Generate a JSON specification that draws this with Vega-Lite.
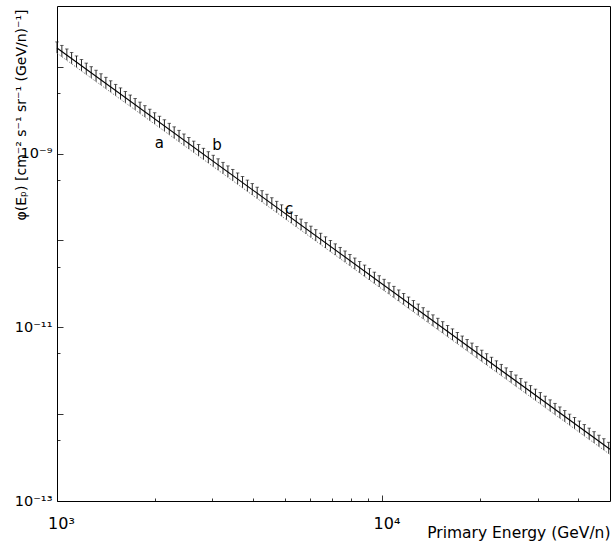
{
  "$schema": "https://vega.github.io/schema/vega-lite/v6.json",
  "width": 553,
  "height": 495,
  "autosize": "none",
  "padding": {"left": 57, "top": 6, "right": 1, "bottom": 43},
  "background": "white",
  "config": {
    "view": {"stroke": "black", "strokeWidth": 1},
    "axis": {
      "domain": false,
      "grid": false,
      "tickColor": "black",
      "tickWidth": 0.8,
      "labelColor": "black",
      "labelFont": "DejaVu Sans",
      "labelFontSize": 16,
      "titleColor": "black",
      "titleFont": "DejaVu Sans",
      "titleFontWeight": "normal",
      "labelFlush": false,
      "labelOverlap": false
    },
    "text": {"font": "DejaVu Sans"}
  },
  "datasets": {
    "bars": [
      {"E": 1000, "lo": 1.43e-8, "hi": 1.93e-8},
      {"E": 1035, "lo": 1.30e-8, "hi": 1.76e-8},
      {"E": 1072, "lo": 1.19e-8, "hi": 1.60e-8},
      {"E": 1109, "lo": 1.08e-8, "hi": 1.46e-8},
      {"E": 1148, "lo": 9.83e-9, "hi": 1.33e-8},
      {"E": 1189, "lo": 8.95e-9, "hi": 1.21e-8},
      {"E": 1230, "lo": 8.15e-9, "hi": 1.10e-8},
      {"E": 1274, "lo": 7.42e-9, "hi": 1.00e-8},
      {"E": 1318, "lo": 6.75e-9, "hi": 9.11e-9},
      {"E": 1365, "lo": 6.15e-9, "hi": 8.29e-9},
      {"E": 1413, "lo": 5.60e-9, "hi": 7.55e-9},
      {"E": 1462, "lo": 5.10e-9, "hi": 6.88e-9},
      {"E": 1514, "lo": 4.64e-9, "hi": 6.26e-9},
      {"E": 1567, "lo": 4.22e-9, "hi": 5.70e-9},
      {"E": 1622, "lo": 3.84e-9, "hi": 5.19e-9},
      {"E": 1679, "lo": 3.50e-9, "hi": 4.72e-9},
      {"E": 1738, "lo": 3.19e-9, "hi": 4.30e-9},
      {"E": 1799, "lo": 2.90e-9, "hi": 3.91e-9},
      {"E": 1862, "lo": 2.64e-9, "hi": 3.56e-9},
      {"E": 1928, "lo": 2.40e-9, "hi": 3.24e-9},
      {"E": 1995, "lo": 2.19e-9, "hi": 2.95e-9},
      {"E": 2065, "lo": 1.99e-9, "hi": 2.69e-9},
      {"E": 2138, "lo": 1.81e-9, "hi": 2.45e-9},
      {"E": 2213, "lo": 1.65e-9, "hi": 2.23e-9},
      {"E": 2291, "lo": 1.50e-9, "hi": 2.03e-9},
      {"E": 2371, "lo": 1.37e-9, "hi": 1.85e-9},
      {"E": 2455, "lo": 1.24e-9, "hi": 1.68e-9},
      {"E": 2541, "lo": 1.13e-9, "hi": 1.53e-9},
      {"E": 2630, "lo": 1.03e-9, "hi": 1.39e-9},
      {"E": 2723, "lo": 9.39e-10, "hi": 1.27e-9},
      {"E": 2818, "lo": 8.55e-10, "hi": 1.15e-9},
      {"E": 2917, "lo": 7.78e-10, "hi": 1.05e-9},
      {"E": 3020, "lo": 7.09e-10, "hi": 9.56e-10},
      {"E": 3126, "lo": 6.45e-10, "hi": 8.70e-10},
      {"E": 3236, "lo": 5.87e-10, "hi": 7.92e-10},
      {"E": 3350, "lo": 5.35e-10, "hi": 7.21e-10},
      {"E": 3467, "lo": 4.87e-10, "hi": 6.57e-10},
      {"E": 3589, "lo": 4.43e-10, "hi": 5.98e-10},
      {"E": 3715, "lo": 4.03e-10, "hi": 5.44e-10},
      {"E": 3846, "lo": 3.67e-10, "hi": 4.95e-10},
      {"E": 3981, "lo": 3.34e-10, "hi": 4.51e-10},
      {"E": 4121, "lo": 3.04e-10, "hi": 4.10e-10},
      {"E": 4266, "lo": 2.77e-10, "hi": 3.74e-10},
      {"E": 4416, "lo": 2.52e-10, "hi": 3.40e-10},
      {"E": 4571, "lo": 2.30e-10, "hi": 3.10e-10},
      {"E": 4732, "lo": 2.09e-10, "hi": 2.82e-10},
      {"E": 4898, "lo": 1.90e-10, "hi": 2.57e-10},
      {"E": 5070, "lo": 1.73e-10, "hi": 2.34e-10},
      {"E": 5248, "lo": 1.58e-10, "hi": 2.13e-10},
      {"E": 5433, "lo": 1.44e-10, "hi": 1.94e-10},
      {"E": 5623, "lo": 1.31e-10, "hi": 1.76e-10},
      {"E": 5821, "lo": 1.19e-10, "hi": 1.60e-10},
      {"E": 6026, "lo": 1.08e-10, "hi": 1.46e-10},
      {"E": 6237, "lo": 9.85e-11, "hi": 1.33e-10},
      {"E": 6457, "lo": 8.97e-11, "hi": 1.21e-10},
      {"E": 6683, "lo": 8.17e-11, "hi": 1.10e-10},
      {"E": 6918, "lo": 7.43e-11, "hi": 1.00e-10},
      {"E": 7161, "lo": 6.77e-11, "hi": 9.13e-11},
      {"E": 7413, "lo": 6.16e-11, "hi": 8.31e-11},
      {"E": 7674, "lo": 5.61e-11, "hi": 7.56e-11},
      {"E": 7943, "lo": 5.11e-11, "hi": 6.89e-11},
      {"E": 8222, "lo": 4.65e-11, "hi": 6.27e-11},
      {"E": 8511, "lo": 4.23e-11, "hi": 5.71e-11},
      {"E": 8810, "lo": 3.85e-11, "hi": 5.20e-11},
      {"E": 9120, "lo": 3.51e-11, "hi": 4.73e-11},
      {"E": 9441, "lo": 3.19e-11, "hi": 4.31e-11},
      {"E": 9772, "lo": 2.91e-11, "hi": 3.92e-11},
      {"E": 10116, "lo": 2.64e-11, "hi": 3.57e-11},
      {"E": 10471, "lo": 2.41e-11, "hi": 3.25e-11},
      {"E": 10839, "lo": 2.19e-11, "hi": 2.96e-11},
      {"E": 11220, "lo": 2.00e-11, "hi": 2.69e-11},
      {"E": 11614, "lo": 1.82e-11, "hi": 2.45e-11},
      {"E": 12023, "lo": 1.65e-11, "hi": 2.23e-11},
      {"E": 12445, "lo": 1.51e-11, "hi": 2.03e-11},
      {"E": 12882, "lo": 1.37e-11, "hi": 1.85e-11},
      {"E": 13335, "lo": 1.25e-11, "hi": 1.68e-11},
      {"E": 13804, "lo": 1.14e-11, "hi": 1.53e-11},
      {"E": 14289, "lo": 1.03e-11, "hi": 1.39e-11},
      {"E": 14791, "lo": 9.41e-12, "hi": 1.27e-11},
      {"E": 15311, "lo": 8.57e-12, "hi": 1.16e-11},
      {"E": 15849, "lo": 7.80e-12, "hi": 1.05e-11},
      {"E": 16406, "lo": 7.10e-12, "hi": 9.58e-12},
      {"E": 16982, "lo": 6.46e-12, "hi": 8.72e-12},
      {"E": 17579, "lo": 5.88e-12, "hi": 7.93e-12},
      {"E": 18197, "lo": 5.35e-12, "hi": 7.22e-12},
      {"E": 18836, "lo": 4.88e-12, "hi": 6.58e-12},
      {"E": 19498, "lo": 4.44e-12, "hi": 5.99e-12},
      {"E": 20184, "lo": 4.04e-12, "hi": 5.45e-12},
      {"E": 20893, "lo": 3.68e-12, "hi": 4.96e-12},
      {"E": 21627, "lo": 3.35e-12, "hi": 4.52e-12},
      {"E": 22387, "lo": 3.05e-12, "hi": 4.11e-12},
      {"E": 23174, "lo": 2.77e-12, "hi": 3.74e-12},
      {"E": 23988, "lo": 2.53e-12, "hi": 3.41e-12},
      {"E": 24831, "lo": 2.30e-12, "hi": 3.10e-12},
      {"E": 25704, "lo": 2.09e-12, "hi": 2.82e-12},
      {"E": 26607, "lo": 1.91e-12, "hi": 2.57e-12},
      {"E": 27542, "lo": 1.73e-12, "hi": 2.34e-12},
      {"E": 28510, "lo": 1.58e-12, "hi": 2.13e-12},
      {"E": 29512, "lo": 1.44e-12, "hi": 1.94e-12},
      {"E": 30549, "lo": 1.31e-12, "hi": 1.77e-12},
      {"E": 31623, "lo": 1.19e-12, "hi": 1.61e-12},
      {"E": 32734, "lo": 1.08e-12, "hi": 1.46e-12},
      {"E": 33884, "lo": 9.87e-13, "hi": 1.33e-12},
      {"E": 35075, "lo": 8.99e-13, "hi": 1.21e-12},
      {"E": 36308, "lo": 8.18e-13, "hi": 1.10e-12},
      {"E": 37584, "lo": 7.45e-13, "hi": 1.00e-12},
      {"E": 38905, "lo": 6.78e-13, "hi": 9.15e-13},
      {"E": 40272, "lo": 6.17e-13, "hi": 8.33e-13},
      {"E": 41687, "lo": 5.62e-13, "hi": 7.58e-13},
      {"E": 43152, "lo": 5.11e-13, "hi": 6.90e-13},
      {"E": 44668, "lo": 4.66e-13, "hi": 6.28e-13},
      {"E": 46238, "lo": 4.24e-13, "hi": 5.72e-13},
      {"E": 47863, "lo": 3.86e-13, "hi": 5.21e-13},
      {"E": 49545, "lo": 3.51e-13, "hi": 4.74e-13}
    ],
    "lines": [
      {"series": "mid", "E": 1000, "phi": 1.644e-8},
      {"series": "mid", "E": 50000, "phi": 3.94e-13},
      {"series": "low", "E": 1000, "phi": 1.43e-8},
      {"series": "low", "E": 50000, "phi": 3.43e-13}
    ],
    "labels": [
      {"E": 2061, "phi": 1.32e-9, "text": "a"},
      {"E": 3100, "phi": 1.26e-9, "text": "b"},
      {"E": 5170, "phi": 2.30e-10, "text": "c"}
    ]
  },
  "resolve": {"axis": {"x": "independent", "y": "independent"}},
  "layer": [
    {
      "data": {"name": "bars"},
      "mark": {"type": "rule", "color": "#111", "strokeWidth": 0.9},
      "encoding": {
        "x": {
          "field": "E",
          "type": "quantitative",
          "scale": {"type": "log", "domain": [1000, 50000], "nice": false},
          "axis": {
            "orient": "bottom",
            "title": "Primary Energy (GeV/n)",
            "titleFontSize": 15.5,
            "titleAlign": "right",
            "titleBaseline": "alphabetic",
            "titleX": 553,
            "titleY": 36,
            "values": [1000, 10000],
            "labelExpr": "datum.value == 1000 ? '10³' : '10⁴'",
            "labelPadding": 20,
            "labelOffset": 4,
            "tickSize": -6
          }
        },
        "y": {
          "field": "lo",
          "type": "quantitative",
          "scale": {"type": "log", "domain": [1e-13, 5e-8], "nice": false},
          "axis": {
            "orient": "left",
            "title": "φ(Eₚ) [cm⁻² s⁻¹ sr⁻¹ (GeV/n)⁻¹]",
            "titleFontSize": 14,
            "titleAlign": "right",
            "titleBaseline": "alphabetic",
            "titleAngle": 270,
            "titleX": -32,
            "titleY": 3,
            "values": [1e-13, 1e-12, 1e-11, 1e-10, 1e-9, 1e-8],
            "labelExpr": "datum.value == 1e-9 ? '10⁻⁹' : datum.value == 1e-11 ? '10⁻¹¹' : datum.value == 1e-13 ? '10⁻¹³' : ''",
            "labelFontSize": 14.5,
            "labelPadding": 11,
            "tickSize": -6
          }
        },
        "y2": {"field": "hi"}
      }
    },
    {
      "data": {"name": "bars"},
      "mark": {"type": "tick", "orient": "horizontal", "color": "#111", "size": 3.5, "thickness": 0.9},
      "encoding": {
        "x": {
          "field": "E",
          "type": "quantitative",
          "axis": {
            "orient": "bottom",
            "title": null,
            "values": [2000, 3000, 4000, 5000, 6000, 7000, 8000, 9000, 20000, 30000, 40000],
            "labels": false,
            "tickSize": -3
          }
        },
        "y": {
          "field": "hi",
          "type": "quantitative",
          "axis": {
            "orient": "left",
            "title": null,
            "values": [5e-13, 5e-12, 5e-11, 5e-10, 5e-9],
            "labels": false,
            "tickSize": -3
          }
        }
      }
    },
    {
      "data": {"name": "lines"},
      "transform": [{"filter": "datum.series == 'mid'"}],
      "mark": {"type": "line", "color": "black", "strokeWidth": 1.1},
      "encoding": {
        "x": {"field": "E", "type": "quantitative", "axis": null},
        "y": {"field": "phi", "type": "quantitative", "axis": null}
      }
    },
    {
      "data": {"name": "lines"},
      "transform": [{"filter": "datum.series == 'low'"}],
      "mark": {"type": "line", "color": "#555", "strokeWidth": 0.7, "strokeDash": [1.5, 1.5]},
      "encoding": {
        "x": {"field": "E", "type": "quantitative", "axis": null},
        "y": {"field": "phi", "type": "quantitative", "axis": null}
      }
    },
    {
      "data": {"name": "labels"},
      "mark": {"type": "text", "fontSize": 15, "color": "black", "align": "center", "baseline": "middle"},
      "encoding": {
        "x": {"field": "E", "type": "quantitative", "axis": null},
        "y": {"field": "phi", "type": "quantitative", "axis": null},
        "text": {"field": "text"}
      }
    }
  ]
}
